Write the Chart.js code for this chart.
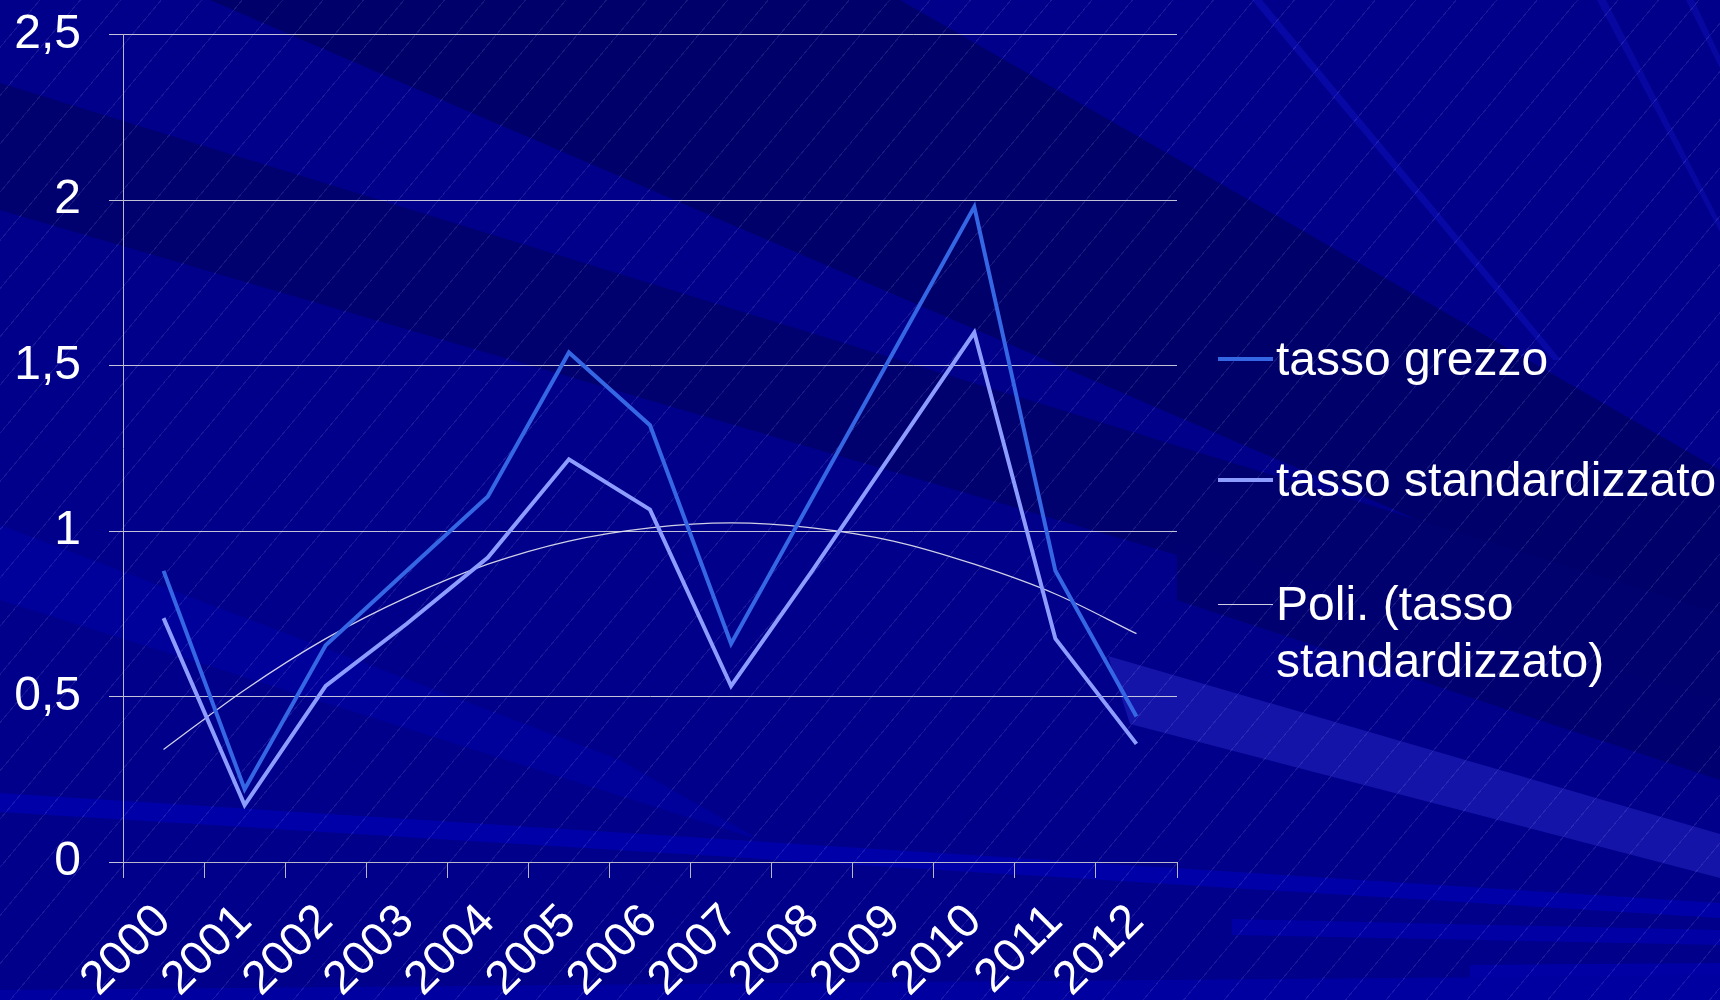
<!DOCTYPE html>
<html>
<head>
<meta charset="utf-8">
<script src="https://cdn.jsdelivr.net/npm/chart.js@4.4.0/dist/chart.umd.min.js"></script>
<style>
html, body { margin: 0; padding: 0; }
body {
  width: 1720px; height: 1000px; overflow: hidden; position: relative;
  background: #00008a;
  font-family: "Liberation Sans", Arial, sans-serif;
}
.bg { position: absolute; left: 0; top: 0; width: 1720px; height: 1000px; }
#hatch {
  background: repeating-linear-gradient(130deg, rgba(255,255,255,0) 0px, rgba(255,255,255,0) 30px,
    rgba(190,190,255,0.12) 30px, rgba(190,190,255,0.12) 31px);
}
/* canvas pulled up a little so the plot area starts where the original does */
#wrap { position: absolute; left: 0; top: -22px; width: 1720px; height: 1022px; }
#legend { position: absolute; left: 0; top: 0; color: #fff; font-size: 48px; }
.lg-line { position: absolute; width: 55px; }
.lg-text { position: absolute; white-space: nowrap; line-height: 57px; }
</style>
</head>
<body>
<!-- background bands -->
<div class="bg" style="background:#00009a;clip-path:polygon(0 525px,0 600px,760px 840px,620px 760px)"></div>
<div class="bg" style="background:#00006a;clip-path:polygon(210px 0,900px 0,1720px 470px,1720px 650px)"></div>
<div class="bg" style="background:#00006e;clip-path:polygon(0 83px,0 210px,1720px 714px,1720px 613px)"></div>
<div class="bg" style="background:#000070;clip-path:polygon(1177px 540px,1720px 700px,1720px 780px,1177px 600px)"></div>
<div class="bg" style="background:#0000a8;clip-path:polygon(0 793px,1720px 903px,1720px 918px,0 812px)"></div>
<div class="bg" style="background:#1414a8;clip-path:polygon(1108px 656px,1720px 834px,1720px 878px,1130px 724px)"></div>
<div class="bg" style="background:#0000a4;clip-path:polygon(1232px 919px,1720px 930px,1720px 945px,1232px 935px)"></div>
<div class="bg" style="background:#0000a4;clip-path:polygon(1470px 965px,1720px 963px,1720px 987px,1470px 990px)"></div>
<div class="bg" style="background:#0000a0;clip-path:polygon(0 990px,1720px 975px,1720px 1000px,0 1000px)"></div>
<div class="bg" style="background:#0808a4;clip-path:polygon(1252px 0,1262px 0,1561px 360px,1553px 360px)"></div>
<div class="bg" style="background:#0808a0;clip-path:polygon(1597px 0,1606px 0,1720px 222px,1720px 232px)"></div>
<div class="bg" style="background:#0808a0;clip-path:polygon(1686px 0,1694px 0,1720px 56px,1720px 68px)"></div>
<div class="bg" id="hatch"></div>
<div id="wrap"><canvas id="chart"></canvas></div>
<div id="legend"></div>
<script>
const years = ['2000', '2001', '2002', '2003', '2004', '2005', '2006', '2007', '2008', '2009', '2010', '2011', '2012'];
const tassoGrezzo = [0.88, 0.22, 0.655, 0.88, 1.105, 1.54, 1.32, 0.66, 1.10, 1.54, 1.98, 0.88, 0.44];
const tassoStandard = [0.737, 0.172, 0.532, 0.72, 0.92, 1.217, 1.065, 0.532, 0.88, 1.24, 1.60, 0.675, 0.357];
const trendPoli = [0.34, 0.52, 0.675, 0.80, 0.90, 0.97, 1.01, 1.025, 1.01, 0.97, 0.90, 0.81, 0.69];
const yTicks = [0, 0.5, 1, 1.5, 2, 2.5];
const seriesLabels = ['tasso grezzo', 'tasso standardizzato', ['Poli. (tasso', 'standardizzato)']];

Chart.defaults.font.family = '"Liberation Sans", Arial, sans-serif';
Chart.defaults.color = '#ffffff';

const config = {
  type: 'line',
  data: {
    labels: years,
    datasets: [{
      label: seriesLabels[0],
      data: tassoGrezzo,
      borderColor: '#3566e4',
      borderWidth: 4,
      pointRadius: 0,
      tension: 0
    }, {
      label: seriesLabels[1],
      data: tassoStandard,
      borderColor: '#8c9cff',
      borderWidth: 4,
      pointRadius: 0,
      tension: 0
    }, {
      label: seriesLabels[2],
      data: trendPoli,
      borderColor: 'rgba(230,230,240,0.9)',
      borderWidth: 1.3,
      pointRadius: 0,
      cubicInterpolationMode: 'monotone'
    }]
  },
  options: {
    responsive: true,
    maintainAspectRatio: false,
    animation: false,
    layout: { padding: { left: 0, right: 543, top: 11, bottom: 0 } },
    plugins: {
      legend: { display: false },
      tooltip: { enabled: false }
    },
    scales: {
      x: {
        offset: true,
        grid: { offset: true, drawOnChartArea: false, drawTicks: true, tickLength: 16, color: '#b8b8c8' },
        border: { color: '#b8b8c8' },
        ticks: { autoSkip: false, minRotation: 45, maxRotation: 45, color: '#fff', font: { size: 47 }, padding: 16 },
        afterFit: (scale) => { scale.height = 138; }
      },
      y: {
        min: 0,
        max: 2.5,
        grid: { color: 'rgba(215,215,225,0.9)', lineWidth: 1, drawTicks: true, tickLength: 14 },
        border: { color: '#b8b8c8' },
        afterBuildTicks: (scale) => { scale.ticks = yTicks.map(v => ({ value: v })); },
        ticks: {
          color: '#fff',
          font: { size: 48 },
          padding: 28,
          callback: (v) => String(v).replace('.', ',')
        },
        afterFit: (scale) => { scale.width = 123; }
      }
    }
  }
};

const chart = new Chart(document.getElementById('chart'), config);

// legend on the right, built from the datasets
const legendRows = [359, 480, 604];
const legend = document.getElementById('legend');
chart.data.datasets.forEach((ds, i) => {
  const line = document.createElement('div');
  line.className = 'lg-line';
  const h = ds.borderWidth >= 2 ? 4 : 1;
  line.style.left = '1218px';
  line.style.top = (legendRows[i] - h / 2) + 'px';
  line.style.height = h + 'px';
  line.style.background = ds.borderColor;
  legend.appendChild(line);
  const txt = document.createElement('div');
  txt.className = 'lg-text';
  txt.style.left = '1276px';
  txt.style.top = (legendRows[i] - 29) + 'px';
  const parts = Array.isArray(ds.label) ? ds.label : [ds.label];
  parts.forEach((p) => {
    const d = document.createElement('div');
    d.textContent = p;
    txt.appendChild(d);
  });
  legend.appendChild(txt);
});
</script>
</body>
</html>
